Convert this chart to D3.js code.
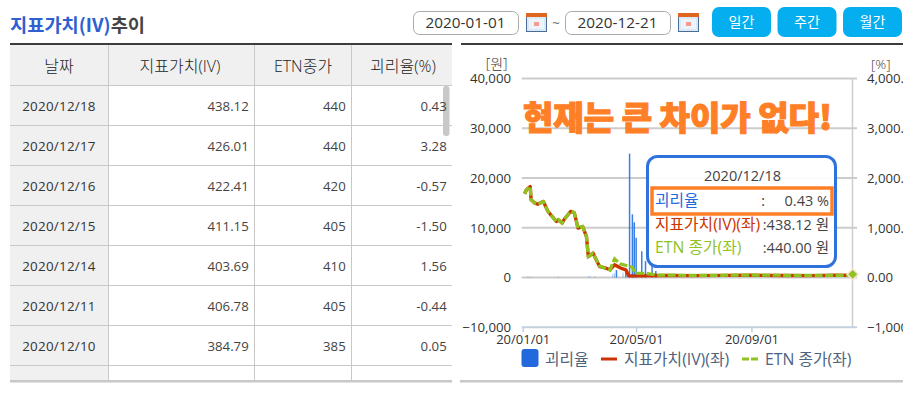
<!DOCTYPE html>
<html><head><meta charset="utf-8">
<script src="https://cdn.jsdelivr.net/npm/d3@7"></script>
<style>
html,body{margin:0;padding:0;background:#fff;overflow:hidden}
svg{display:block}
text{font-family:"Open Sans","Noto Sans CJK KR",sans-serif;fill:#333}
</style></head><body>
<svg id="c" width="921" height="393"></svg>
<script>
// ---------- data ----------
const tableHeaders = ["날짜","지표가치(IV)","ETN종가","괴리율(%)"];
const tableDates = ["2020/12/18","2020/12/17","2020/12/16","2020/12/15","2020/12/14","2020/12/11","2020/12/10","2020/12/09"];
const tableIV = ["438.12","426.01","422.41","411.15","403.69","406.78","384.79",""];
const tableETN = ["440","440","420","405","410","405","385",""];
const tableGap = ["0.43","3.28","-0.57","-1.50","1.56","-0.44","0.05",""];

const ivDates = ["2020/01/03","2020/01/05","2020/01/09","2020/01/10","2020/01/14","2020/01/17","2020/01/23","2020/01/28","2020/01/31","2020/02/06","2020/02/08","2020/02/12","2020/02/14","2020/02/21","2020/02/25","2020/02/29","2020/03/05","2020/03/09","2020/03/11","2020/03/16","2020/03/23","2020/03/28","2020/04/03","2020/04/08","2020/04/14","2020/04/20","2020/04/23","2020/05/01","2020/06/01","2020/07/01","2020/08/03","2020/09/01","2020/10/05","2020/11/02","2020/12/01","2020/12/18"];
const ivValues = [16830,17630,18290,15620,14960,14760,15280,13270,12610,11260,11610,10940,11610,13270,13060,9940,10250,8240,4220,4910,2210,2010,1560,2560,1950,1560,350,330,420,380,430,450,420,380,460,438];

const etnDates = ["2020/01/03","2020/01/05","2020/01/09","2020/01/10","2020/01/14","2020/01/17","2020/01/23","2020/01/28","2020/01/31","2020/02/06","2020/02/08","2020/02/12","2020/02/14","2020/02/21","2020/02/25","2020/02/29","2020/03/05","2020/03/09","2020/03/11","2020/03/16","2020/03/23","2020/04/03","2020/04/08","2020/04/14","2020/04/27","2020/04/30","2020/05/08","2020/05/15","2020/05/25","2020/06/15","2020/07/15","2020/08/14","2020/09/14","2020/10/15","2020/11/16","2020/12/18"];
const etnValues = [16830,17630,18290,15620,14960,14760,15280,13270,12610,11260,11610,10940,11610,13270,13060,9940,10250,8240,4220,4910,2310,1500,3760,2750,2070,860,860,740,500,460,430,480,500,430,420,440];

const gapDates = ["2020/01/06","2020/01/08","2020/01/10","2020/02/08","2020/03/11","2020/03/13","2020/03/18","2020/04/06","2020/04/08","2020/04/10","2020/04/17","2020/04/20","2020/04/24","2020/04/27","2020/04/29","2020/05/01","2020/05/07","2020/05/11","2020/05/18","2020/05/22"];
const gapValues = [15,20,12,20,20,25,20,70,90,150,100,120,2490,1270,1110,800,530,330,240,130];

const leftTicks = [40000,30000,20000,10000,0,-10000];
const rightTicks = [4000,3000,2000,1000,0,-1000];
const xTickDates = ["2020/01/01","2020/05/01","2020/09/01"];
const periodButtons = ["일간","주간","월간"];
const dateRange = ["2020-01-01","2020-12-21"];
const legendItems = ["괴리율","지표가치(IV)(좌)","ETN 종가(좌)"];
const tipDate = "2020/12/18";
const tipRows = [["괴리율","0.43 %"],["지표가치(IV)(좌)",":438.12 원"],["ETN 종가(좌)",":440.00 원"]];
const headline = "현재는 큰 차이가 없다!";

// ---------- setup ----------
const svg = d3.select("#c");
const parse = d3.timeParse("%Y/%m/%d");
const BLUE="#2269dd", RED="#cc3300", GREEN="#8fc31f", ORANGE="#ff7f27", GRID="#cccccc";
const defs = svg.append("defs");
defs.append("clipPath").attr("id","tc").append("rect").attr("x",0).attr("y",40).attr("width",460).attr("height",340);
defs.append("clipPath").attr("id","cc").append("rect").attr("x",460).attr("y",40).attr("width",443).attr("height",345);

// ---------- heading ----------
const title = svg.append("text").attr("x",10).attr("y",32).style("font-family",'"Noto Sans CJK KR",sans-serif').style("font-size","18.7px").style("font-weight",700);
title.append("tspan").style("fill","#2f5fd0").text("지표가치(IV)");
title.append("tspan").style("fill","#444").text("추이");

function inputBox(x,w,txt){
  svg.append("rect").attr("x",x+.5).attr("y",11.5).attr("width",w).attr("height",23).attr("rx",6).attr("fill","#fff").attr("stroke","#aaa");
  svg.append("text").attr("x",x+w/2).attr("y",28).attr("text-anchor","middle").style("font-size","15.3px").text(txt);
}
function calIcon(x){
  const g=svg.append("g").attr("transform",`translate(${x},13)`);
  g.append("rect").attr("x",.5).attr("y",3).attr("width",20).attr("height",15.5).attr("fill","#dbe8f6").attr("stroke","#4a6c96");
  g.append("rect").attr("x",0).attr("y",0).attr("width",21).attr("height",4).attr("fill","#e0651f");
  g.append("rect").attr("x",3).attr("y",6).attr("width",15).attr("height",10).attr("fill","#eef4fb");
  g.append("rect").attr("x",8).attr("y",9).attr("width",5).attr("height",4).attr("fill","#f59a8c");
}
inputBox(413,105,dateRange[0]); calIcon(526);
svg.append("text").attr("x",556).attr("y",28).attr("text-anchor","middle").style("font-size","13px").style("fill","#666").text("~");
inputBox(565,105,dateRange[1]); calIcon(678);
svg.selectAll("g.btn").data(periodButtons).join("g").attr("class","btn")
  .attr("transform",(d,i)=>`translate(${712+i*65.5},7)`)
  .each(function(d){
    const g=d3.select(this);
    g.append("rect").attr("width",59).attr("height",30).attr("rx",7).attr("fill","#04aeef");
    g.append("text").attr("x",29.5).attr("y",20).attr("text-anchor","middle").style("fill","#fff").style("font-size","14px").text(d);
  });

// ---------- table ----------
const colX=[10,108.5,254.5,351.5,452];
const rowTop=85.5,rowH=40;
svg.append("rect").attr("x",10).attr("y",45).attr("width",442).attr("height",40).attr("fill","#f0f0f0");
const tb=svg.append("g").attr("clip-path","url(#tc)");
tb.append("rect").attr("x",10).attr("y",85).attr("width",98).attr("height",300).attr("fill","#f0f0f0");
tb.append("rect").attr("x",443).attr("y",86).attr("width",6.5).attr("height",50).attr("rx",3).attr("fill","#c8c8c8");
tb.selectAll("line.rl").data(d3.range(8)).join("line").attr("class","rl")
  .attr("x1",10).attr("x2",452).attr("y1",i=>rowTop+i*rowH).attr("y2",i=>rowTop+i*rowH).attr("stroke","#c8c8c8");
tb.selectAll("line.cl").data(colX.slice(1,4)).join("line").attr("class","cl")
  .attr("x1",d=>d).attr("x2",d=>d).attr("y1",45).attr("y2",381).attr("stroke","#c8c8c8");
const headCx=[59,180,303,403];
tb.selectAll("text.h").data(tableHeaders).join("text").attr("class","h")
  .attr("x",(d,i)=>headCx[i]).attr("y",71.5).attr("text-anchor","middle").style("font-size","16px").style("font-weight",300).style("fill","#222").text(d=>d);
tableDates.forEach((d,i)=>{
  const y=rowTop+i*rowH+25;
  tb.append("text").attr("x",59).attr("y",y).attr("text-anchor","middle").style("font-size","13.4px").style("letter-spacing",".25px").text(d);
  [[tableIV,248.7],[tableETN,345.7],[tableGap,446.7]].forEach(([arr,x])=>{
    tb.append("text").attr("x",x).attr("y",y).attr("text-anchor","end").style("font-size","13.2px").style("fill","#444").text(arr[i]);
  });
});
svg.append("rect").attr("x",10).attr("y",43).attr("width",442).attr("height",2).attr("fill","#3c3c3c");
svg.append("rect").attr("x",10).attr("y",380).attr("width",442).attr("height",2.5).attr("fill","#c8c8c8");
svg.append("rect").attr("x",461).attr("y",43).attr("width",442).attr("height",2).attr("fill","#3c3c3c");
svg.append("rect").attr("x",460).attr("y",380).attr("width",443).attr("height",2.5).attr("fill","#c8c8c8");

// ---------- chart ----------
const x=d3.scaleTime().domain([parse("2020/01/01"),parse("2020/12/18")]).range([522.7,852.7]);
const yL=d3.scaleLinear().domain([-10000,40000]).range([327.3,78.5]);
const yR=d3.scaleLinear().domain([-1000,4000]).range([327.3,78.5]);
const ch=svg.append("g").attr("clip-path","url(#cc)");

ch.selectAll("line.g").data(leftTicks.slice(0,5)).join("line").attr("class","g")
  .attr("x1",521.7).attr("x2",857).attr("y1",d=>yL(d)).attr("y2",d=>yL(d)).attr("stroke",GRID).attr("stroke-width",2);
ch.append("line").attr("x1",852.5).attr("x2",852.5).attr("y1",yL(40000)).attr("y2",yL(-10000)).attr("stroke",GRID).attr("stroke-width",1.5);

// axes
const axL=ch.append("g").attr("transform","translate(511,0)")
  .call(d3.axisLeft(yL).tickValues(leftTicks).tickSize(0).tickPadding(0).tickFormat(d3.format(",")));
axL.select(".domain").remove();
axL.selectAll("text").style("font-size","13.2px").style("font-family",'"Open Sans"').style("fill","#333");
const axR=ch.append("g").attr("transform","translate(867,0)")
  .call(d3.axisRight(yR).tickValues(rightTicks).tickSize(0).tickPadding(0).tickFormat(d3.format(",.2f")));
axR.select(".domain").remove();
axR.selectAll("text").style("font-size","13.2px").style("font-family",'"Open Sans"').style("fill","#333");
const axX=ch.append("g").attr("transform",`translate(0,${yL(-10000)})`)
  .call(d3.axisBottom(x).tickValues(xTickDates.map(parse)).tickSize(5).tickPadding(2).tickFormat(d3.timeFormat("%y/%m/%d")));
axX.select(".domain").attr("d","M521.7,0H857").attr("stroke","#c3d0df").attr("stroke-width",2);
axX.selectAll("line").attr("stroke","#c3d0df").attr("stroke-width",1.5);
axX.selectAll("text").style("font-size","13px").style("font-family",'"Open Sans"').style("fill","#333");
ch.append("text").attr("x",507.5).attr("y",69).attr("text-anchor","end").style("font-size","14px").style("font-weight",300).text("[원]");
ch.append("text").attr("x",871).attr("y",69).style("font-size","13.5px").style("font-weight",300).text("[%]");

// bars
ch.selectAll("line.b").data(gapDates).join("line").attr("class","b")
  .attr("x1",d=>x(parse(d))).attr("x2",d=>x(parse(d)))
  .attr("y1",yR(0)).attr("y2",(d,i)=>yR(gapValues[i]))
  .attr("stroke","#2f78e6").attr("stroke-width",(d,i)=>gapValues[i]>100?1.5:1).attr("stroke-opacity",(d,i)=>gapValues[i]>100?.95:.45);

// lines
const mk=(ds,vs)=>d3.line().x((d,i)=>x(parse(ds[i]))).y((d,i)=>yL(vs[i]))(ds);
ch.append("path").attr("d",mk(ivDates,ivValues)).attr("fill","none").attr("stroke",RED).attr("stroke-width",3.4).attr("stroke-linejoin","round");
ch.append("path").attr("d",mk(etnDates,etnValues)).attr("fill","none").attr("stroke",GREEN).attr("stroke-width",3.2).attr("stroke-dasharray","8 2.5");

// end marker
const mx=x(parse("2020/12/18")), my=yL(etnValues[etnValues.length-1]);
ch.append("path").attr("d",d3.symbol(d3.symbolSquare,60)()).attr("transform",`translate(${mx},${my-1}) rotate(45)`)
  .attr("fill",GREEN).attr("stroke","#fbe3d3").attr("stroke-width",1.5);

// headline
ch.append("text").attr("x",523).attr("y",130).style("font-family",'"Noto Sans CJK KR",sans-serif').style("font-size","33px").style("font-weight",900)
  .style("fill",ORANGE).style("stroke",ORANGE).style("stroke-width","1.2px").text(headline);

// tooltip
const tip=ch.append("g");
tip.append("rect").attr("x",647.5).attr("y",156.5).attr("width",188).attr("height",110).attr("rx",10).attr("fill","#fff").attr("fill-opacity",.93).attr("stroke","#2f72dc").attr("stroke-width",3);
tip.append("text").attr("x",742.5).attr("y",181).attr("text-anchor","middle").style("font-size","14.5px").style("fill","#444").text(tipDate);
const tipColors=[BLUE,RED,GREEN], tipY=[205.5,230,253];
tipRows.forEach((r,i)=>{
  tip.append("text").attr("x",655).attr("y",tipY[i]).style("font-size","15.8px").style("fill",tipColors[i]).text(r[0]);
  tip.append("text").attr("x",829).attr("y",tipY[i]).attr("text-anchor","end").style("font-size","14.5px").style("fill","#444").text(r[1]);
});
tip.append("text").attr("x",763).attr("y",tipY[0]).attr("text-anchor","middle").style("font-size","14px").text(":");
tip.append("rect").attr("x",652).attr("y",188).attr("width",180).attr("height",26).attr("fill","none").attr("stroke",ORANGE).attr("stroke-width",3.5);

// legend
const LT="#4d6480", ly=359;
const leg=ch.append("g");
leg.append("rect").attr("x",521.5).attr("y",349).attr("width",17).attr("height",18).attr("rx",3).attr("fill",BLUE);
leg.append("line").attr("x1",601).attr("x2",617).attr("y1",ly).attr("y2",ly).attr("stroke",RED).attr("stroke-width",3);
leg.append("line").attr("x1",742).attr("x2",758).attr("y1",ly).attr("y2",ly).attr("stroke",GREEN).attr("stroke-width",3).attr("stroke-dasharray","7 2");
[545,624,765].forEach((lx,i)=>{
  leg.append("text").attr("x",lx).attr("y",ly+5.5).style("font-size","15.8px").style("fill",LT).text(legendItems[i]);
});
</script>
</body></html>
